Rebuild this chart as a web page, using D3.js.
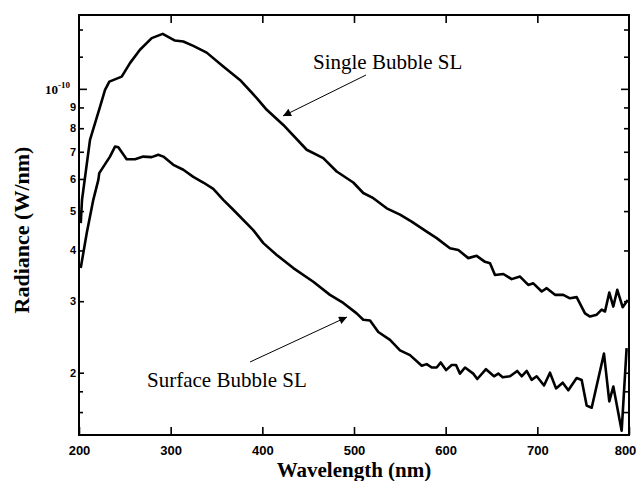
<!DOCTYPE html>
<html>
<head>
<meta charset="utf-8">
<script src="https://cdn.jsdelivr.net/npm/d3@7"></script>
<style>
  body { margin: 0; background: #fff; }
  svg { font-family: 'Liberation Serif', 'Times New Roman', serif; }
</style>
</head>
<body>
<script>
// radiance values in units of 1e-11 W/nm
const singleWl = [201.9, 203.3, 212, 222.9, 228.4, 233.1, 246.6, 255.6, 266.5, 279.3, 291.3, 304.7, 313.8,
  324.7, 339.3, 357.4, 375.6, 393.9, 404.8, 422.9, 448.4, 466.5, 481.1, 499.2, 510.1, 521.1, 535.7,
  550.2, 562.9, 579.3, 590.2, 604.7, 613.8, 624.7, 633.8, 642.9, 648.4, 653.8, 662.9, 672, 681.1,
  690.1, 695.6, 704.8, 710.2, 719.3, 728.3, 735.6, 742.9, 752, 757.5, 764.8, 770.2, 773.8, 778.5,
  782.9, 787.2, 793.1, 798.6]
const singleVal = [4.67, 5.33, 7.49, 9.03, 9.94, 10.42, 10.72, 11.57, 12.48, 13.33, 13.66, 13.15, 13.08,
  12.76, 12.28, 11.35, 10.52, 9.49, 8.88, 8.15, 7.08, 6.75, 6.26, 5.88, 5.54, 5.38, 5.08,
  4.90, 4.71, 4.45, 4.29, 4.05, 4.01, 3.83, 3.88, 3.75, 3.72, 3.48, 3.50, 3.40, 3.45,
  3.29, 3.32, 3.17, 3.23, 3.11, 3.11, 3.05, 3.07, 2.80, 2.75, 2.78, 2.86, 2.83, 3.15,
  2.91, 3.20, 2.90, 3.02]

const surfaceWl = [201.9, 208.4, 215.6, 221.1, 222.1, 233.8, 239.3, 242.9, 252, 261.1, 270.1, 279.3, 286.5,
  292, 302.9, 313.8, 324.7, 335.6, 346.5, 357.4, 368.3, 390.1, 401.1, 415.7, 433.8, 455.6, 473.8,
  488.3, 502.9, 510.1, 517.5, 526.5, 539.3, 550.2, 561.1, 573.9, 579.3, 584.8, 590.2, 594.6, 600.4,
  606.6, 611.3, 615.6, 621.1, 630.1, 634.5, 644, 652.7, 657.4, 662.2, 670.2, 678.1, 682.9, 688.4,
  693.8, 699.3, 707.3, 713.8, 720.4, 727.7, 733.8, 742.9, 748.4, 753.8, 759.3, 772.7, 778.5, 782.9,
  792, 797.4]
const surfaceVal = [3.62, 4.41, 5.33, 5.97, 6.20, 6.81, 7.21, 7.18, 6.71, 6.71, 6.81, 6.79, 6.88,
  6.81, 6.50, 6.32, 6.07, 5.88, 5.67, 5.33, 5.04, 4.49, 4.17, 3.90, 3.62, 3.35, 3.11,
  2.97, 2.80, 2.70, 2.69, 2.52, 2.41, 2.27, 2.21, 2.08, 2.10, 2.06, 2.06, 2.12, 2.03,
  2.09, 2.09, 1.99, 2.06, 1.99, 1.93, 2.04, 1.96, 1.99, 1.95, 1.96, 2.02, 1.96, 2.02,
  1.92, 1.96, 1.86, 2.00, 1.83, 1.89, 1.81, 1.94, 1.92, 1.66, 1.64, 2.23, 1.70, 1.85,
  1.44, 2.30]

const xTicks = [200, 300, 400, 500, 600, 700, 800]
const yLabelTicks = [2, 3, 4, 5, 6, 7, 8, 9]
const yMinorTicks = [1.6, 1.8, 12, 14]

const width = 638
const height = 481
const plotLeft = 79, plotRight = 629, plotTop = 15, plotBottom = 435

const x = d3.scaleLinear().domain([200, 800]).range([plotLeft, plotRight])
const y = d3.scaleLog().domain([1.405, 15.2]).range([plotBottom, plotTop])

const svg = d3.select('body').append('svg')
  .attr('width', width)
  .attr('height', height)

// frame
svg.append('rect')
  .attr('x', plotLeft).attr('y', plotTop)
  .attr('width', plotRight - plotLeft).attr('height', plotBottom - plotTop)
  .attr('fill', 'none').attr('stroke', '#000').attr('stroke-width', 2)

const styleAxis = (g) => {
  g.select('.domain').remove()
  g.selectAll('line').attr('stroke', '#000').attr('stroke-width', 1.6)
  g.selectAll('text').attr('fill', '#000').style('font-weight', 'bold')
}

// x axes (bottom + top, ticks inward)
svg.append('g')
  .attr('transform', `translate(0,${plotBottom})`)
  .call(d3.axisBottom(x).tickValues(xTicks).tickSizeInner(-8).tickSizeOuter(0).tickPadding(11).tickFormat(d3.format('d')))
  .call(styleAxis)
  .call((g) => g.selectAll('text').style('font-size', '13px')
    .attr('dx', (d) => (d === 800 ? -4 : 0)))
svg.append('g')
  .attr('transform', `translate(0,${plotTop})`)
  .call(d3.axisTop(x).tickValues(xTicks.slice(1, -1)).tickSizeInner(-8).tickSizeOuter(0).tickFormat(''))
  .call(styleAxis)

// y axes (left + right, ticks inward)
svg.append('g')
  .attr('transform', `translate(${plotLeft},0)`)
  .call(d3.axisLeft(y).tickValues(yLabelTicks).tickSizeInner(-5).tickSizeOuter(0).tickPadding(3).tickFormat(d3.format('d')))
  .call(styleAxis)
  .call((g) => g.selectAll('text').style('font-size', '11px'))
svg.append('g')
  .attr('transform', `translate(${plotLeft},0)`)
  .call(d3.axisLeft(y).tickValues(yMinorTicks).tickSizeInner(-4).tickSizeOuter(0).tickFormat(''))
  .call(styleAxis)
svg.append('g')
  .attr('transform', `translate(${plotLeft},0)`)
  .call(d3.axisLeft(y).tickValues([10]).tickSizeInner(-8).tickSizeOuter(0).tickFormat(''))
  .call(styleAxis)
svg.append('g')
  .attr('transform', `translate(${plotRight},0)`)
  .call(d3.axisRight(y).tickValues(yLabelTicks.concat(yMinorTicks)).tickSizeInner(-5).tickSizeOuter(0).tickFormat(''))
  .call(styleAxis)
svg.append('g')
  .attr('transform', `translate(${plotRight},0)`)
  .call(d3.axisRight(y).tickValues([10]).tickSizeInner(-8).tickSizeOuter(0).tickFormat(''))
  .call(styleAxis)

// 10^-10 label
const tenLabel = svg.append('text')
  .attr('x', 45).attr('y', y(10) + 5)
  .style('font-weight', 'bold').style('font-size', '13px')
tenLabel.append('tspan').text('10')
tenLabel.append('tspan').attr('dy', -6).style('font-size', '9px').text('-10')

// axis titles
svg.append('text')
  .attr('x', (plotLeft + plotRight) / 2).attr('y', 477)
  .attr('text-anchor', 'middle')
  .style('font-weight', 'bold').style('font-size', '21px')
  .text('Wavelength (nm)')
svg.append('text')
  .attr('transform', `translate(29,${(plotTop + plotBottom) / 2 + 5}) rotate(-90)`)
  .attr('text-anchor', 'middle')
  .style('font-weight', 'bold').style('font-size', '22px')
  .text('Radiance (W/nm)')

// curves
const line = d3.line().x((d) => x(d[0])).y((d) => y(d[1]))
const series = [
  d3.zip(singleWl, singleVal),
  d3.zip(surfaceWl, surfaceVal)
]
svg.selectAll('path.curve')
  .data(series)
  .enter()
  .append('path')
  .attr('class', 'curve')
  .attr('d', line)
  .attr('fill', 'none')
  .attr('stroke', '#000')
  .attr('stroke-width', 2.6)
  .attr('stroke-linejoin', 'round')

// annotations with arrows
svg.append('defs').append('marker')
  .attr('id', 'arrow')
  .attr('viewBox', '0 0 10 10')
  .attr('refX', 10).attr('refY', 5)
  .attr('markerWidth', 12).attr('markerHeight', 8)
  .attr('markerUnits', 'userSpaceOnUse')
  .attr('orient', 'auto')
  .append('path').attr('d', 'M0,0L10,5L0,10Z').attr('fill', '#000')

const notes = [
  { text: 'Single Bubble SL', tx: 313, ty: 69, from: [366, 75], to: [283, 116] },
  { text: 'Surface Bubble SL', tx: 147, ty: 387, from: [250, 362], to: [347, 317] }
]
notes.forEach((n) => {
  svg.append('text')
    .attr('x', n.tx).attr('y', n.ty)
    .style('font-size', '21px')
    .text(n.text)
  svg.append('line')
    .attr('x1', n.from[0]).attr('y1', n.from[1])
    .attr('x2', n.to[0]).attr('y2', n.to[1])
    .attr('stroke', '#000').attr('stroke-width', 1)
    .attr('marker-end', 'url(#arrow)')
})
</script>
</body>
</html>
